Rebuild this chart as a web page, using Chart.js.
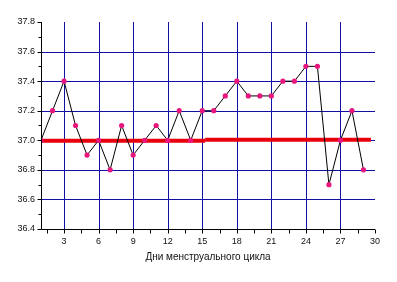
<!DOCTYPE html>
<html><head><meta charset="utf-8">
<script src="https://cdn.jsdelivr.net/npm/chart.js@4"></script>
<style>html,body{margin:0;padding:0;background:#fff}#wrap{width:397px;height:282px}</style>
</head><body><div id="wrap"><canvas id="c" width="397" height="282"></canvas></div>
<script>
const days = [1,2,3,4,5,6,7,8,9,10,11,12,13,14,15,16,17,18,19,20,21,22,23,24,25,26,27,28,29];
const temps = [37.0,37.2,37.4,37.1,36.9,37.0,36.8,37.1,36.9,37.0,37.1,37.0,37.2,37.0,37.2,37.2,37.3,37.4,37.3,37.3,37.3,37.4,37.4,37.5,37.5,36.7,37.0,37.2,36.8];
const lineDaysA = [1,15.25];
const lineValsA = [36.997,36.997];
const lineDaysB = [15.25,29.65];
const lineValsB = [37.004,37.004];
const xTicks = [3,6,9,12,15,18,21,24,27,30];
const yTicks = [36.4,36.6,36.8,37.0,37.2,37.4,37.6,37.8];
const xTitle = 'Дни менструального цикла';

const toXY = (xs, ys) => xs.map((x,i)=>({x:x,y:ys[i]}));
const GRID = 'rgb(16,16,165)';

const gridPlugin = {
  id:'gridPlugin',
  beforeDatasetsDraw(chart){
    const ctx=chart.ctx, xs=chart.scales.x, ys=chart.scales.y, a=chart.chartArea;
    ctx.save();
    ctx.strokeStyle=GRID; ctx.lineWidth=1;
    ctx.beginPath();
    xTicks.forEach(v=>{
      if(v>=30) return;
      const px=Math.round(xs.getPixelForValue(v))+0.5;
      ctx.moveTo(px,a.top); ctx.lineTo(px,a.bottom);
    });
    yTicks.forEach(v=>{
      if(Math.abs(v-37.8)<1e-6||Math.abs(v-36.4)<1e-6) return;
      const py=Math.round(ys.getPixelForValue(v))+0.5;
      ctx.moveTo(a.left,py); ctx.lineTo(a.right,py);
    });
    ctx.stroke();
    ctx.restore();
  },
  afterDraw(chart){
    const ctx=chart.ctx, xs=chart.scales.x, ys=chart.scales.y, a=chart.chartArea;
    ctx.save();
    ctx.strokeStyle='#000'; ctx.lineWidth=1;
    ctx.beginPath();
    const l=Math.round(a.left)+0.5, b=Math.round(a.bottom)+0.5;
    ctx.moveTo(l,a.top); ctx.lineTo(l,b); ctx.lineTo(a.right,b);
    for(let v=1.5; v<=30.01; v+=1.5){
      const px=Math.round(xs.getPixelForValue(v))+0.5;
      ctx.moveTo(px,b); ctx.lineTo(px,b+4);
    }
    for(let k=0;k<=14;k++){
      const v=36.4+k*0.1;
      const py=Math.round(ys.getPixelForValue(v))+0.5;
      ctx.moveTo(l,py); ctx.lineTo(l-(k%2===0?4:3),py);
    }
    ctx.stroke();
    ctx.restore();
  }
};

new Chart(document.getElementById('c'),{
  type:'line',
  data:{datasets:[
    {data:toXY(days,temps),borderColor:'#000',borderWidth:1,pointBackgroundColor:'#e8177d',pointBorderColor:'#e8177d',pointRadius:2.6,pointBorderWidth:0,tension:0,order:0},
    {data:toXY(lineDaysA,lineValsA),borderColor:'#e8000c',borderWidth:4,pointRadius:0,tension:0,order:1,borderCapStyle:'butt'},
    {data:toXY(lineDaysB,lineValsB),borderColor:'#e8000c',borderWidth:4,pointRadius:0,tension:0,order:1,borderCapStyle:'butt'}
  ]},
  options:{
    responsive:false,animation:false,
    layout:{padding:{left:0,top:22,right:22,bottom:0}},
    plugins:{legend:{display:false},tooltip:{enabled:false}},
    scales:{
      x:{type:'linear',min:1,max:30,
        afterBuildTicks:s=>{s.ticks=xTicks.map(v=>({value:v}));},
        afterFit:s=>{s.height=53;},
        grid:{display:false,drawTicks:false},
        border:{display:false},
        ticks:{padding:7,color:'#111',font:{family:'Liberation Sans, Arial',size:9},maxRotation:0,autoSkip:false},
        title:{display:true,text:xTitle,color:'#111',font:{family:'Liberation Sans, Arial',size:10},padding:{top:0,bottom:19}}
      },
      y:{type:'linear',min:36.4,max:37.8,
        afterBuildTicks:s=>{s.ticks=yTicks.map(v=>({value:v}));},
        afterFit:s=>{s.width=41;},
        grid:{display:false,drawTicks:false},
        border:{display:false},
        ticks:{padding:6,color:'#111',font:{family:'Liberation Sans, Arial',size:9},callback:v=>Number(v).toFixed(1)}
      }
    }
  },
  plugins:[gridPlugin]
});
</script></body></html>
